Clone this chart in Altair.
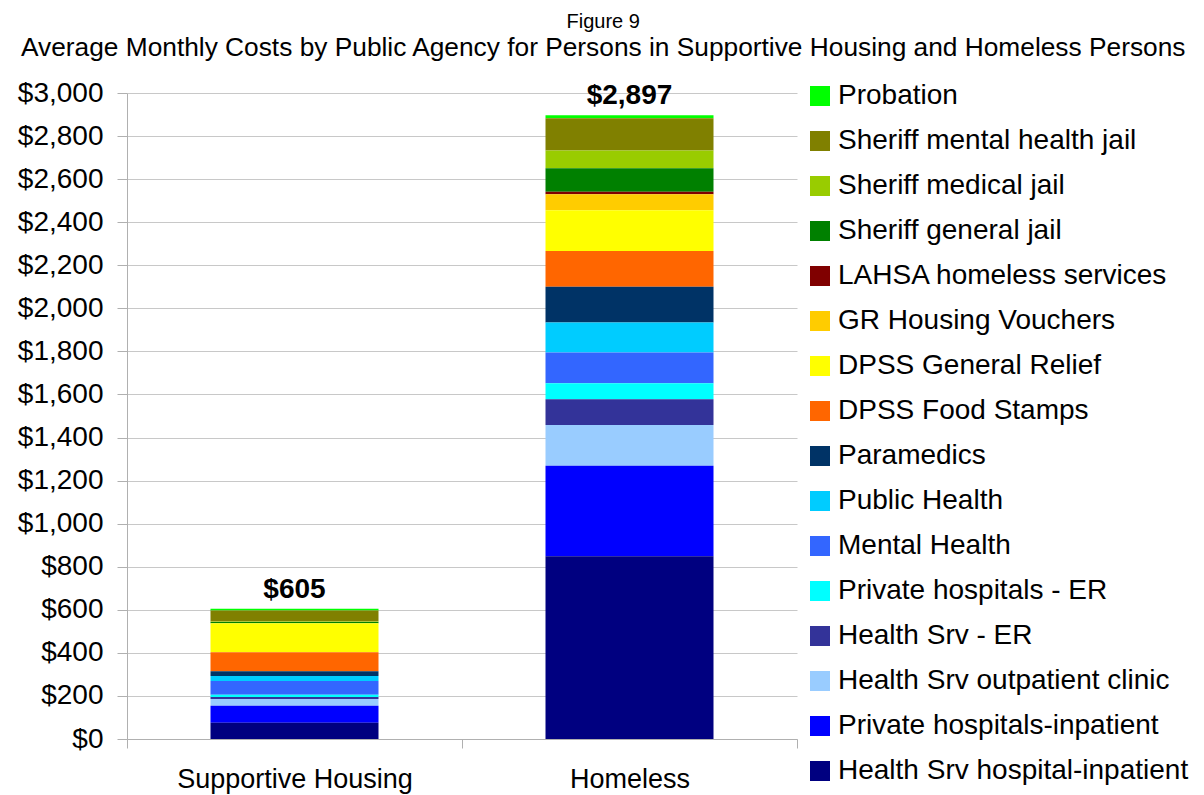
import altair as alt
import pandas as pd

# Legend order (top to bottom)
agencies = [
    "Probation",
    "Sheriff mental health jail",
    "Sheriff medical jail",
    "Sheriff general jail",
    "LAHSA homeless services",
    "GR Housing Vouchers",
    "DPSS General Relief",
    "DPSS Food Stamps",
    "Paramedics",
    "Public Health",
    "Mental Health",
    "Private hospitals - ER",
    "Health Srv - ER",
    "Health Srv outpatient clinic",
    "Private hospitals-inpatient",
    "Health Srv hospital-inpatient",
]
colors = [
    "#00FF00", "#808000", "#99CC00", "#008000", "#800000", "#FFCC00",
    "#FFFF00", "#FF6600", "#003366", "#00CCFF", "#3366FF", "#00FFFF",
    "#333399", "#99CCFF", "#0000FF", "#000080",
]
groups = ["Supportive Housing", "Homeless"]
supportive = [8, 51, 3, 6, 0, 0, 134, 88, 23, 23, 64, 10, 9, 32, 79, 75]
homeless = [14, 150, 83, 109, 11, 74, 190, 166, 166, 139, 143, 74, 120, 189, 420, 849]
totals = [605, 2897]
total_labels = ["$605", "$2,897"]

rows = []
for g, vals in zip(groups, [supportive, homeless]):
    for i, (a, v) in enumerate(zip(agencies, vals)):
        rows.append({"group": g, "agency": a, "value": v, "stack": len(agencies) - i})
df = pd.DataFrame(rows)
tot = pd.DataFrame({"group": groups, "total": totals, "label": total_labels})

FONT = "Liberation Sans"

x_enc = alt.X(
    "group:N",
    sort=groups,
    scale=alt.Scale(paddingInner=0, paddingOuter=0),
    axis=alt.Axis(
        title=None,
        labelAngle=0,
        labelFontSize=27,
        labelFont=FONT,
        labelColor="black",
        labelPadding=18,
        labelLimit=400,
        tickBand="extent",
        tickSize=9,
        tickColor="#B0B0B0",
        domainColor="#B0B0B0",
        grid=False,
    ),
)

y_axis = alt.Axis(
    title=None,
    values=list(range(0, 3001, 100)),
    labelExpr="datum.value % 200 === 0 ? '$' + format(datum.value, ',') : ''",
    labelFontSize=28,
    labelFont=FONT,
    labelColor="black",
    labelPadding=14,
    tickColor="#B0B0B0",
    tickSize={"condition": {"test": "datum.value % 200 === 0", "value": 10}, "value": 8},
    domainColor="#B0B0B0",
    gridColor="#C8C8C8",
    gridOpacity={"condition": {"test": "datum.value % 200 === 0", "value": 1}, "value": 0},
)

bars = alt.Chart(df).mark_bar(size=168).encode(
    x=x_enc,
    y=alt.Y("sum(value):Q", scale=alt.Scale(domain=[0, 3000], nice=False), axis=y_axis, stack="zero"),
    color=alt.Color(
        "agency:N",
        scale=alt.Scale(domain=agencies, range=colors),
        legend=alt.Legend(
            title=None,
            orient="none",
            legendX=679,
            legendY=-11,
            symbolType="square",
            symbolSize=400,
            symbolStrokeWidth=0,
            labelFontSize=28,
            labelFont=FONT,
            labelColor="black",
            labelOffset=4,
            rowPadding=17,
            labelLimit=400,
        ),
    ),
    order=alt.Order("stack:Q", sort="ascending"),
)

labels = alt.Chart(tot).mark_text(
    fontSize=28, fontWeight="bold", font=FONT, color="black", baseline="bottom", dy=-5
).encode(
    x=alt.X("group:N", sort=groups),
    y=alt.Y("total:Q"),
    text="label:N",
)

chart = (
    alt.layer(bars, labels)
    .properties(
        width=670,
        height=646,
        autosize=alt.AutoSizeParams(type="none"),
        padding={"left": 119, "top": 85, "right": 399, "bottom": 56},
        title=alt.Title(
            "Figure 9",
            subtitle="Average Monthly Costs by Public Agency for Persons in Supportive Housing and Homeless Persons",
            anchor="middle",
            frame="bounds",
            fontSize=20,
            fontWeight="normal",
            font=FONT,
            color="black",
            subtitleFontSize=26.3,
            subtitleFont=FONT,
            subtitleColor="black",
            subtitlePadding=3,
            offset=18,
        ),
    )
    .configure_view(stroke=None)
)

chart.save("out.html", embed_options={"renderer": "svg", "actions": False})
